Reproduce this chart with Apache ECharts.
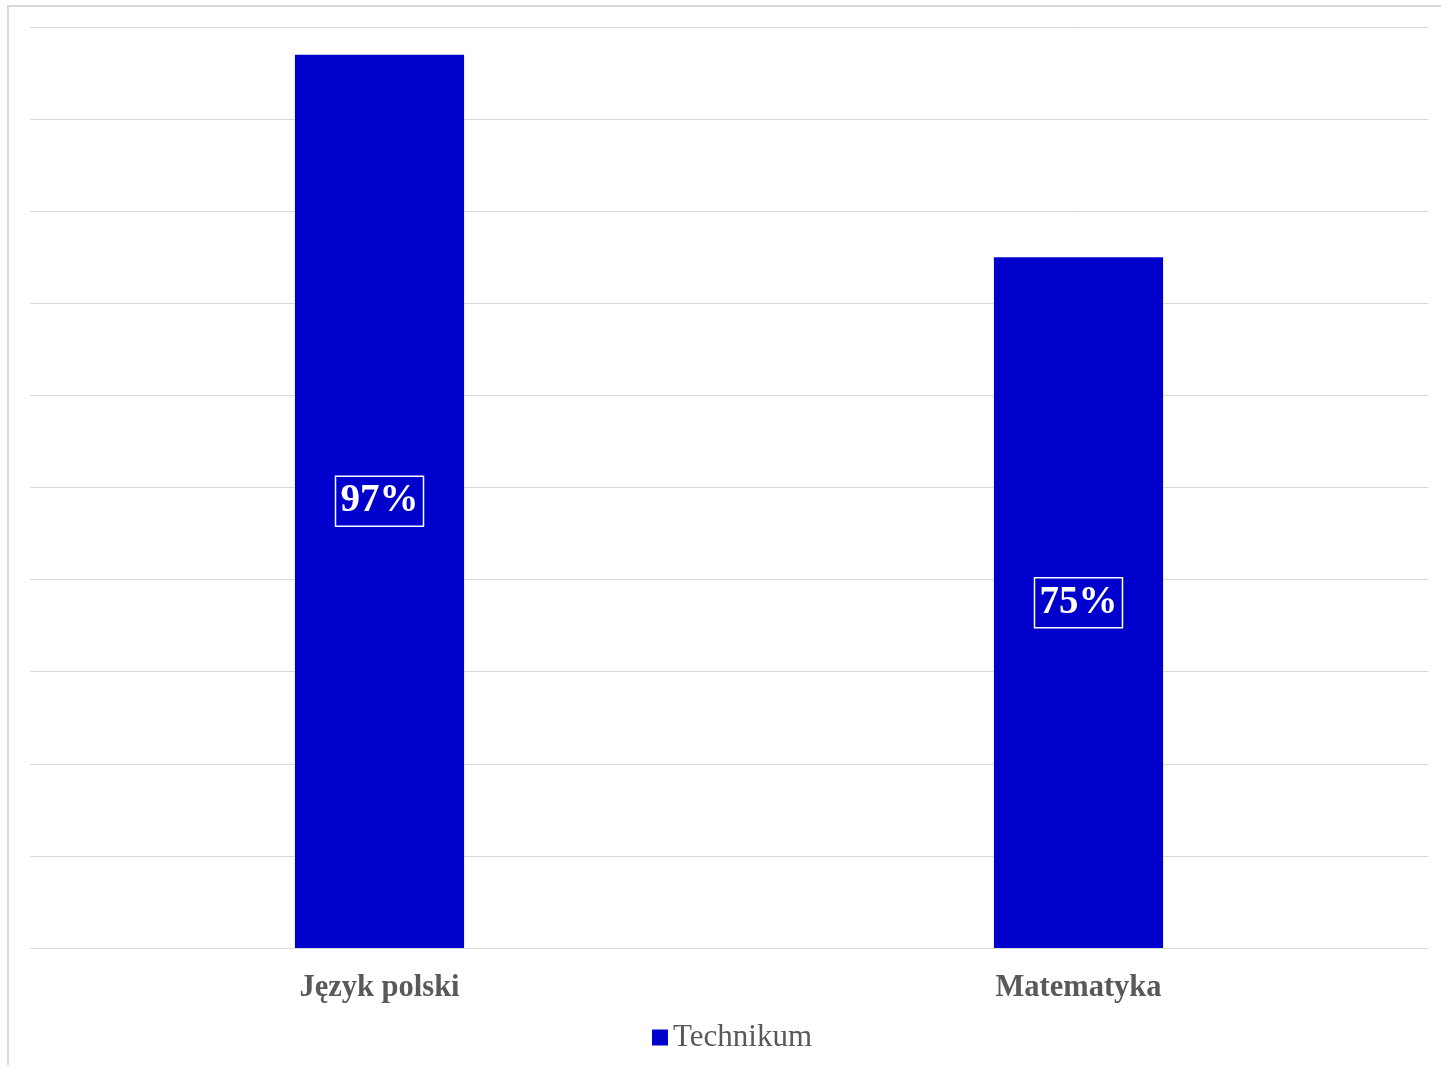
<!DOCTYPE html>
<html>
<head>
<meta charset="utf-8">
<script src="https://cdn.jsdelivr.net/npm/echarts@6/dist/echarts.min.js"></script>
<style>
html,body{margin:0;padding:0;background:#fff;}
#c{width:1441px;height:1065px;}
</style>
</head>
<body>
<div id="c"></div>
<script>
const categories = ['Język polski', 'Matematyka'];
const seriesName = 'Technikum';
const values = [0.97, 0.75];

const chart = echarts.init(document.getElementById('c'));
chart.setOption({
  animation: false,
  backgroundColor: '#fff',
  graphic: [{
    type: 'rect', silent: true,
    shape: {x: 8, y: 6, width: 1500, height: 1200},
    style: {fill: 'none', stroke: '#d9d9d9', lineWidth: 2}
  }],
  grid: {left: 30, right: 13, top: 27, bottom: 117, containLabel: false},
  legend: {
    top: 1022, left: 652, padding: 0,
    itemWidth: 16, itemHeight: 16, itemGap: 10,
    icon: 'rect',
    textStyle: {fontFamily: 'Liberation Serif', fontSize: 31, color: '#595959'},
    data: [seriesName]
  },
  xAxis: {
    type: 'category', data: categories,
    axisLine: {show: true, lineStyle: {color: '#d9d9d9', width: 1}},
    axisTick: {show: false},
    axisLabel: {fontFamily: 'Liberation Serif', fontWeight: 'bold', fontSize: 30.5, color: '#595959', margin: 25}
  },
  yAxis: {
    type: 'value', min: 0, max: 1, interval: 0.1,
    axisLabel: {show: false}, axisLine: {show: false}, axisTick: {show: false},
    splitLine: {lineStyle: {color: '#d9d9d9', width: 1}}
  },
  series: [{
    name: seriesName, type: 'bar', data: values,
    barWidth: '24.2%',
    itemStyle: {color: '#0000CC'},
    label: {
      show: true, position: 'inside',
      formatter: p => Math.round(p.value * 100) + '%',
      fontFamily: 'Liberation Serif', fontWeight: 'bold', fontSize: 39, color: '#fff',
      borderColor: '#fff', borderWidth: 1.5, padding: [7, 5, 4, 5]
    }
  }]
});
</script>
</body>
</html>
